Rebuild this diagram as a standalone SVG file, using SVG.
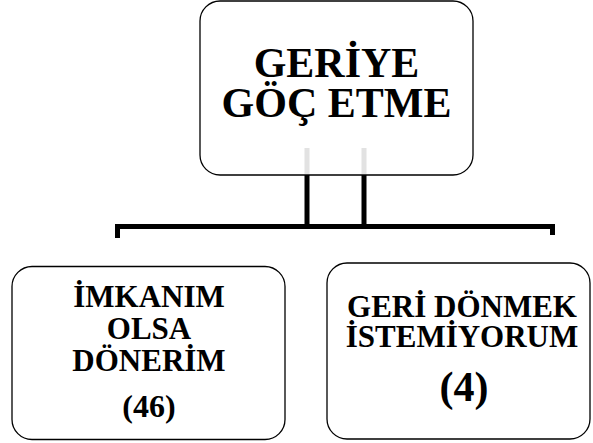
<svg xmlns="http://www.w3.org/2000/svg" width="593" height="443" viewBox="0 0 593 443">
<style>
.box{fill:#fff;stroke:#000;stroke-width:1.3}
.t{font-family:'Liberation Serif','Times New Roman',serif;font-weight:700;fill:#000;text-anchor:middle}
.conn{fill:none;stroke:#000;stroke-width:5}
.ghost{fill:none;stroke:#e2e2e2;stroke-width:5}
</style>
<rect width="593" height="443" fill="#fff"/>
<g id="connectors">
<path class="conn" d="M117.5,238 V226.5 H552.5 V235"/>
<path class="conn" d="M307,175 V226.5 M364,175 V226.5"/>
</g>
<g id="top">
<rect class="box" x="200" y="1" width="273" height="174" rx="20"/>
<path class="ghost" d="M307,148 V174 M364,148 V174"/>
<text class="t" font-family="Liberation Serif, serif" x="336.5" y="77" font-size="42">GERİYE</text>
<text class="t" font-family="Liberation Serif, serif" x="336.5" y="117" font-size="42">GÖÇ ETME</text>
</g>
<g id="left">
<rect class="box" x="12" y="266.5" width="273" height="173" rx="20"/>
<text class="t" font-family="Liberation Serif, serif" x="149" y="307" font-size="31">İMKANIM</text>
<text class="t" font-family="Liberation Serif, serif" x="149" y="339" font-size="31">OLSA</text>
<text class="t" font-family="Liberation Serif, serif" x="149" y="371" font-size="31">DÖNERİM</text>
<text class="t" font-family="Liberation Serif, serif" x="149" y="417" font-size="32">(46)</text>
</g>
<g id="right">
<rect class="box" x="327" y="263" width="263" height="176" rx="20"/>
<text class="t" font-family="Liberation Serif, serif" x="462" y="317" font-size="31">GERİ DÖNMEK</text>
<text class="t" font-family="Liberation Serif, serif" x="462" y="347" font-size="31">İSTEMİYORUM</text>
<text class="t" font-family="Liberation Serif, serif" x="464" y="401" font-size="42">(4)</text>
</g>
</svg>
